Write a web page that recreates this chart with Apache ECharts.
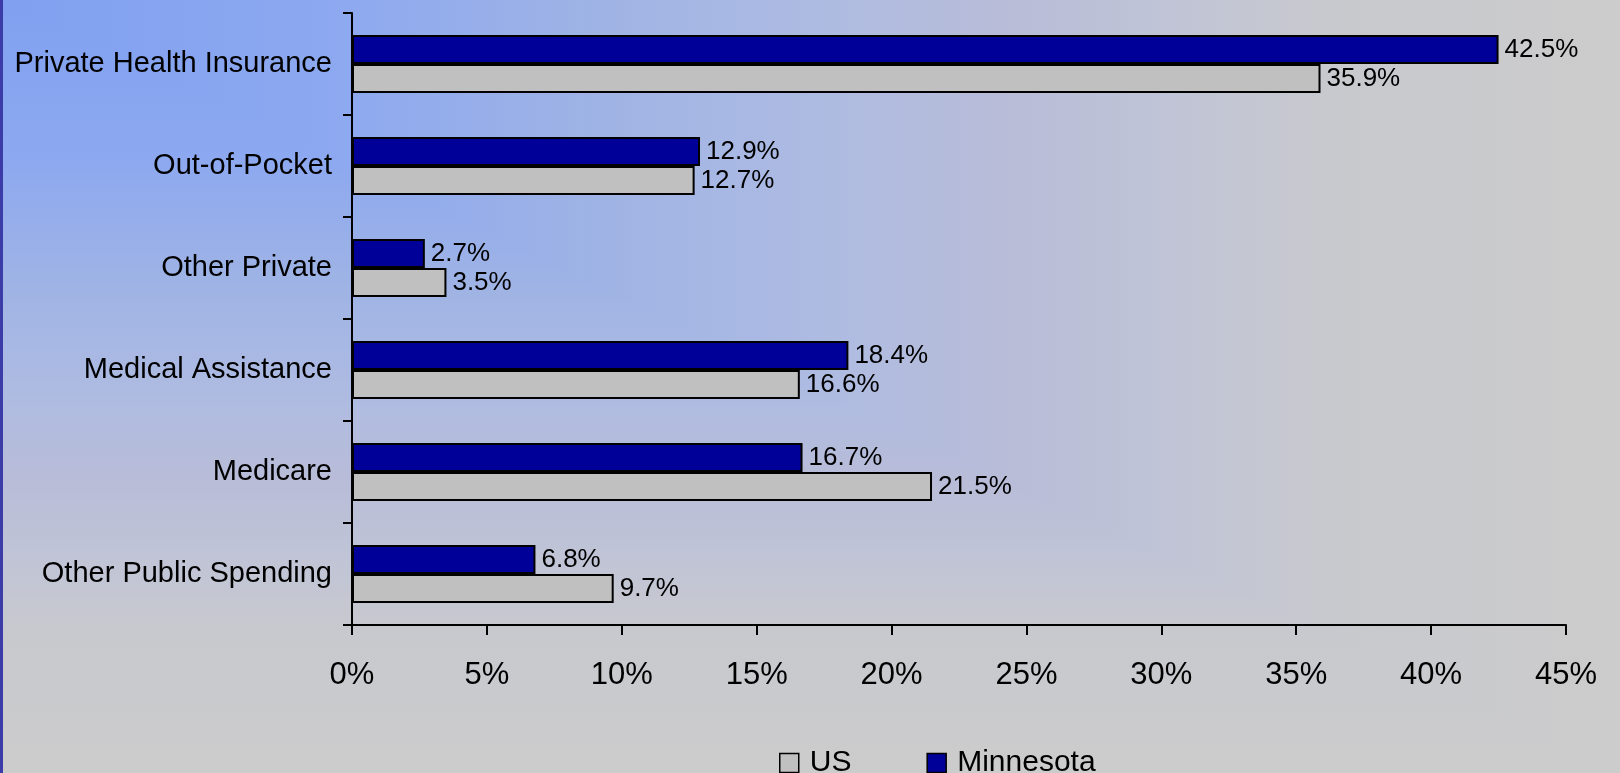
<!DOCTYPE html>
<html>
<head>
<meta charset="utf-8">
<script src="https://cdn.jsdelivr.net/npm/echarts@6/dist/echarts.min.js"></script>
<style>
html,body{margin:0;padding:0;background:#cccccc;}
#chart{width:1620px;height:773px;}
</style>
</head>
<body>
<div id="chart"></div>
<script>
const categories = ['Private Health Insurance','Out-of-Pocket','Other Private','Medical Assistance','Medicare','Other Public Spending'];
const minnesota = [42.5, 12.9, 2.7, 18.4, 16.7, 6.8];
const us = [35.9, 12.7, 3.5, 16.6, 21.5, 9.7];
const xTicks = [0, 5, 10, 15, 20, 25, 30, 35, 40, 45];

const W = 1620, H = 773;
const FONT = "'Liberation Sans', Arial, sans-serif";
const stops = [
  {offset:0, color:'#80a0f0'},
  {offset:0.2, color:'#8ca8f0'},
  {offset:0.38, color:'#a0b4e4'},
  {offset:0.45, color:'#a8b8e4'},
  {offset:0.53, color:'#b0bce0'},
  {offset:0.62, color:'#b8bcd8'},
  {offset:0.72, color:'#c0c4d6'},
  {offset:0.82, color:'#c8c9ce'},
  {offset:1, color:'#cccccc'}
];

const chart = echarts.init(document.getElementById('chart'), null, {renderer:'canvas'});
const labelStyle = {
  show:true, position:'right', distance:6, color:'#000', fontSize:26, fontFamily:FONT,
  formatter: p => p.value.toFixed(1) + '%'
};
chart.setOption({
  backgroundColor:'#cccccc',
  animation:false,
  textStyle:{fontFamily:FONT},
  graphic:[
    {type:'polygon', z:-20, silent:true, shape:{points:[[0,0],[0,H],[W,H],[W,0]]},
     style:{fill:{type:'linear',x:0,y:0,x2:0,y2:1,colorStops:stops}}},
    {type:'polygon', z:-19, silent:true, shape:{points:[[0,0],[W,0],[W,H]]},
     style:{fill:{type:'linear',x:0,y:0,x2:1,y2:0,colorStops:stops}}},
    {type:'rect', z:-18, silent:true, shape:{x:0,y:0,width:3,height:H}, style:{fill:'#3c3ca8'}}
  ],
  grid:{left:352, right:54, top:13, bottom:148, containLabel:false},
  legend:{
    data:['US','Minnesota'], left:774, top:743, orient:'horizontal', padding:5,
    itemWidth:19, itemHeight:19, itemGap:75, icon:'rect',
    itemStyle:{borderColor:'#000', borderWidth:1.5},
    textStyle:{fontSize:30, color:'#000', fontFamily:FONT, padding:[0,0,0,6]}
  },
  xAxis:{
    type:'value', min:0, max:45, interval:5,
    axisLine:{show:true, lineStyle:{color:'#000', width:2}},
    axisTick:{show:true, length:10, lineStyle:{color:'#000', width:2}},
    splitLine:{show:false},
    axisLabel:{fontSize:31, color:'#000', margin:35, fontFamily:FONT,
      formatter: v => xTicks.includes(v) ? v + '%' : ''}
  },
  yAxis:{
    type:'category', data:categories, inverse:true,
    axisLine:{show:true, lineStyle:{color:'#000', width:2}},
    axisTick:{show:true, length:9, alignWithLabel:false, lineStyle:{color:'#000', width:2}},
    axisLabel:{fontSize:29, color:'#000', margin:20, fontFamily:FONT}
  },
  series:[
    {name:'Minnesota', type:'bar', data:minnesota, barGap:'0%', barCategoryGap:'43%',
     itemStyle:{color:'#000099', borderColor:'#000', borderWidth:2}, label:labelStyle},
    {name:'US', type:'bar', data:us, barGap:'0%', barCategoryGap:'43%',
     itemStyle:{color:'#c0c0c0', borderColor:'#000', borderWidth:2}, label:labelStyle}
  ]
});
</script>
</body>
</html>
